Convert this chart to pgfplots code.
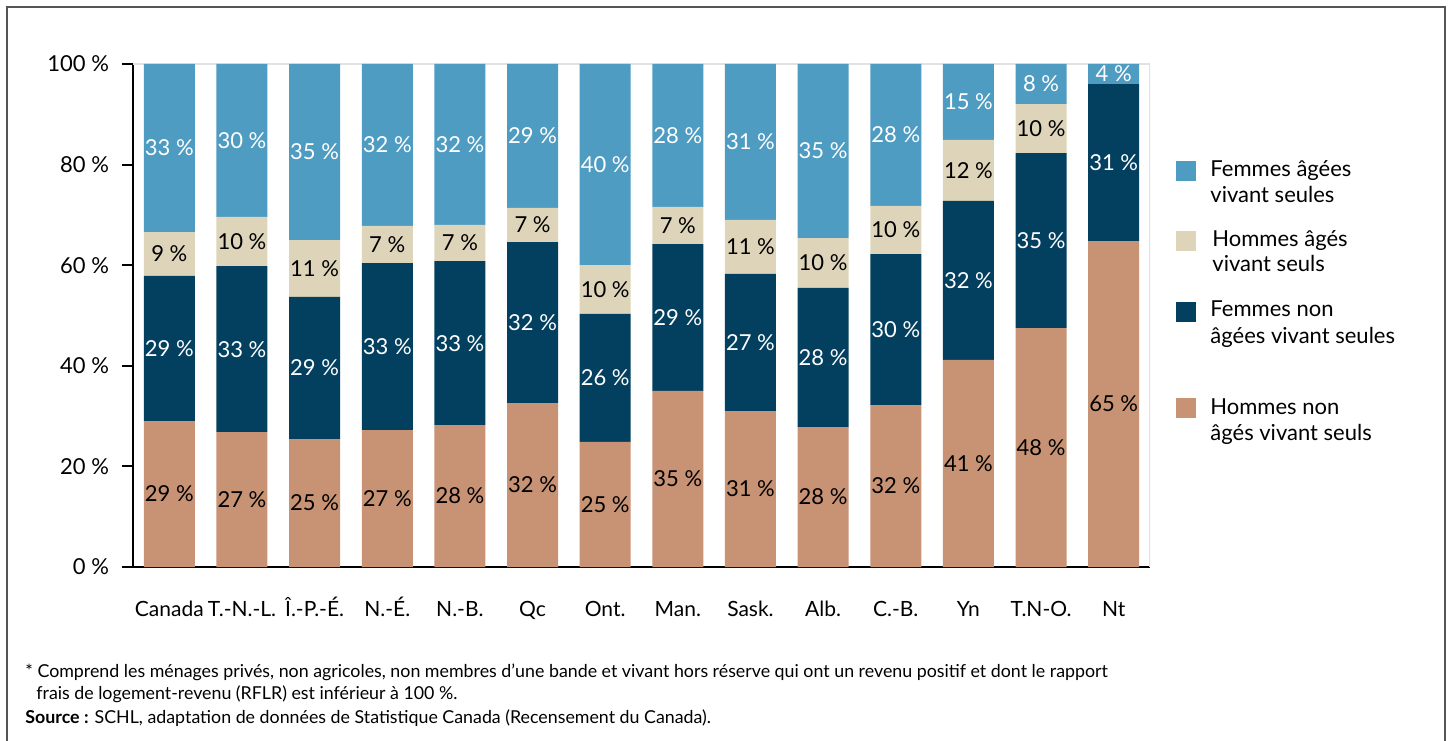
\documentclass[border=0pt]{standalone}
\usepackage{fontspec}
\setmainfont{Lato}
\usepackage{pgfplots}
\usepackage{pgfplotstable}
\pgfplotsset{compat=1.18}

\definecolor{fag}{HTML}{4E9CC1}
\definecolor{hag}{HTML}{DDD4BA}
\definecolor{fnon}{HTML}{03405F}
\definecolor{hnon}{HTML}{C89274}
\definecolor{cadre}{HTML}{555555}
\definecolor{bord}{HTML}{E2E2E2}

% parts of each bar, bottom to top
\pgfplotstableread{
x hnon fnon hag fag
0 29.0 28.9 8.7 33.4
1 26.8 33.0 9.8 30.4
2 25.4 28.3 11.3 35.0
3 27.2 33.2 7.4 32.2
4 28.2 32.6 7.2 32.0
5 32.6 32.0 6.8 28.6
6 24.9 25.4 9.7 40.0
7 35.0 29.2 7.4 28.4
8 31.0 27.3 10.7 31.0
9 27.8 27.7 9.9 34.6
10 32.2 30.0 9.6 28.2
11 41.2 31.6 12.1 15.1
12 47.5 34.8 9.7 8.0
13 64.8 31.2 0.0 4.0
}\parts

\pgfplotsset{
  commun/.style={
    scale only axis,
    width=508.5pt, height=251.5pt,
    at={(66.5pt,86.5pt)}, anchor=south west,
    xmin=-0.5, xmax=13.5,
    ymin=0, ymax=100,
  },
}

\begin{document}
\begin{tikzpicture}
\path[use as bounding box] (0,0) rectangle (724.5pt,370pt);
\draw[cadre, line width=0.8pt] (3.5pt,-5pt) -- (3.5pt,366.5pt) -- (722.5pt,366.5pt) -- (722.5pt,-5pt);

\begin{axis}[
  commun,
  ybar stacked,
  bar width=25.5pt,
  axis x line*=bottom,
  axis y line*=left,
  axis line style={line width=1pt, black},
  tick style={line width=1pt, black},
  tick align=outside,
  major tick length=5.5pt,
  ytick={0,20,...,100},
  yticklabel={\pgfmathprintnumber{\tick}~\%},
  yticklabel style={xshift=-3pt},
  xtick={0,...,13},
  xticklabels={Canada,T.-N.-L.,Î.-P.-É.,N.-É.,N.-B.,Qc,Ont.,Man.,Sask.,Alb.,C.-B.,Yn,T.N-O.,Nt},
  x tick style={draw=none},
  minor xtick={-0.5,0.5,...,13.5},
  minor tick length=5.5pt,
  minor x tick style={line width=1pt, black},
  xticklabel style={anchor=base, yshift=-19pt, font=\fontsize{10.5}{13}\selectfont},
  yticklabel style={font=\fontsize{11}{13}\selectfont},
  /pgf/number format/assume math mode=true,
]
\addplot[fill=hnon, draw=none] table[x=x, y=hnon] {\parts};
\addplot[fill=fnon, draw=none] table[x=x, y=fnon] {\parts};
\addplot[fill=hag, draw=none] table[x=x, y=hag] {\parts};
\addplot[fill=fag, draw=none] table[x=x, y=fag] {\parts};
\draw[bord, line width=1pt] (rel axis cs:0,1) -- (rel axis cs:1,1) -- (rel axis cs:1,0);
\end{axis}

\begin{axis}[
  commun,
  hide axis,
  clip=false,
  nodes near coords={\pgfplotspointmeta~\%},
  point meta=explicit symbolic,
  every node near coord/.append style={anchor=center, font=\fontsize{11}{13}\selectfont},
]
\addplot[draw=none, mark=none, every node near coord/.append style={text=black}] coordinates {
(0,14.5)[29] (1,13.4)[27] (2,12.7)[25] (3,13.6)[27] (4,14.1)[28] (5,16.3)[32] (6,12.45)[25]
(7,17.5)[35] (8,15.5)[31] (9,13.9)[28] (10,16.1)[32] (11,20.6)[41] (12,23.75)[48] (13,32.4)[65]};
\addplot[draw=none, mark=none, every node near coord/.append style={text=white}] coordinates {
(0,43.45)[29] (1,43.3)[33] (2,39.55)[29] (3,43.8)[33] (4,44.5)[33] (5,48.6)[32] (6,37.6)[26]
(7,49.6)[29] (8,44.65)[27] (9,41.65)[28] (10,47.2)[30] (11,57.0)[32] (12,64.9)[35] (13,80.4)[31]};
\addplot[draw=none, mark=none, every node near coord/.append style={text=black}] coordinates {
(0,62.25)[9] (1,64.7)[10] (2,59.35)[11] (3,64.1)[7] (4,64.4)[7] (5,68.0)[7] (6,55.15)[10]
(7,67.9)[7] (8,63.65)[11] (9,60.45)[10] (10,67.0)[10] (11,78.85)[12] (12,87.15)[10]};
\addplot[draw=none, mark=none, every node near coord/.append style={text=white}] coordinates {
(0,83.3)[33] (1,84.8)[30] (2,82.5)[35] (3,83.9)[32] (4,84.0)[32] (5,85.7)[29] (6,80.0)[40]
(7,85.8)[28] (8,84.5)[31] (9,82.7)[35] (10,85.9)[28] (11,92.45)[15] (12,96.0)[8] (13,98.0)[4]};
\end{axis}

% legend
\begin{scope}[every node/.style={anchor=base west, inner sep=0pt, font=\fontsize{11}{13}\selectfont}]
\fill[fag]  (588pt,279.5pt) rectangle (598pt,289.5pt);
\node at (605pt,281.6pt) {Femmes âgées};
\node at (605pt,268.6pt) {vivant seules};
\fill[hag]  (588pt,244.5pt) rectangle (598pt,254.5pt);
\node at (606pt,246.5pt) {Hommes âgés};
\node at (606pt,234pt) {vivant seuls};
\fill[fnon] (588pt,209pt) rectangle (598pt,219pt);
\node at (605pt,211.5pt) {Femmes non};
\node at (605pt,198.5pt) {âgées vivant seules};
\fill[hnon] (588pt,161pt) rectangle (598pt,171pt);
\node at (605pt,163pt) {Hommes non};
\node at (605pt,150pt) {âgés vivant seuls};
\end{scope}

\begin{scope}[every node/.style={anchor=base west, inner sep=0pt, font=\fontsize{8.9}{10}\selectfont}]
\node at (12.5pt,31.5pt)
  {* Comprend les ménages privés, non agricoles, non membres d’une bande et vivant hors réserve qui ont un revenu positif et dont le rapport};
\node at (18pt,20.5pt)
  {frais de logement-revenu (RFLR) est inférieur à 100~\%.};
\node at (12.5pt,8.5pt)
  {\textbf{Source :} SCHL, adaptation de données de Statistique Canada (Recensement du Canada).};
\end{scope}
\end{tikzpicture}
\end{document}
